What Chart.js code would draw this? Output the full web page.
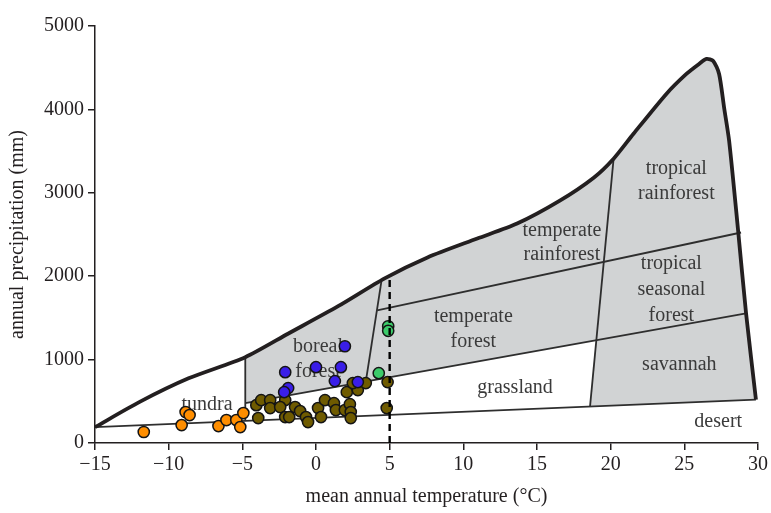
<!DOCTYPE html>
<html>
<head>
<meta charset="utf-8">
<script src="https://cdn.jsdelivr.net/npm/chart.js@4"></script>
<style>
  html, body { margin: 0; padding: 0; background: #fff; }
  #wrap { width: 771px; height: 513px; }
</style>
</head>
<body>
<div id="wrap"><canvas id="myChart"></canvas></div>
<script>
// axis ticks
const xTickValues = [-15, -10, -5, 0, 5, 10, 15, 20, 25, 30];
const xTickLabels = ['\u221215', '\u221210', '\u22125', '0', '5', '10', '15', '20', '25', '30'];
const yTickValues = [0, 1000, 2000, 3000, 4000, 5000];
const yTickLabels = ['0', '1000', '2000', '3000', '4000', '5000'];

// outer climate envelope (temperature, precipitation)
const boundaryT = [-15, -12.0, -8.65, -4.8, -1.9, 1.5, 4.66, 7.57, 10.95, 13.65, 16.55, 18.85, 20.2, 21.55, 23.78, 25.14, 26.0, 26.5, 26.96, 27.36, 27.7, 28.04, 28.65, 29.19, 29.86];
const boundaryP = [190, 490, 775, 1029, 1310, 1640, 1974, 2225, 2452, 2631, 2906, 3181, 3409, 3708, 4186, 4425, 4545, 4605, 4581, 4425, 4020, 3624, 2547, 1555, 520];

// biome dividing lines
const desertT = [-15, 29.86], desertP = [190, 520];
const tundraEdgeT = [-4.8, -4.8], tundraEdgeP = [1029, 266];
const forestEdgeT = [-4.8, 29.19], forestEdgeP = [478, 1555];
const borealEdgeT = [4.45, 3.38], borealEdgeP = [1950, 737];
const temperateEdgeT = [4.15, 28.85], temperateEdgeP = [1591, 2524];
const tropicalEdgeT = [20.2, 18.6], tropicalEdgeP = [3409, 440];
const dashT = [5, 5], dashP = [0, 2000];

// shaded (forest + savannah) region corners below the envelope
const shadeCornerT = [18.6, 19.0, -4.8];
const shadeCornerP = [440, 1232, 478];

// sites
const orangeT = [-11.69, -9.12, -8.85, -8.58, -6.62, -6.08, -5.41, -5.14, -4.93];
const orangeP = [132, 215, 371, 335, 203, 275, 275, 191, 359];
const oliveT = [-4.05, -3.72, -3.11, -2.09, -3.92, -3.11, -2.43, -2.09, -1.82, -1.42, -1.08, -0.68, -0.54, 0.14, 0.34, 0.61, 1.22, 1.35, 1.96, 2.30, 2.36, 2.36, 2.09, 2.84, 2.50, 3.38, 4.86, 4.80];
const oliveP = [454, 514, 514, 514, 299, 419, 431, 311, 311, 431, 383, 311, 251, 419, 311, 514, 478, 395, 395, 466, 371, 299, 610, 634, 718, 718, 730, 419];
const blueT = [1.96, -2.09, 0.0, 1.69, 1.28, 2.84, -1.89, -2.16];
const blueP = [1160, 849, 909, 909, 742, 730, 658, 610];
const greenT = [4.9, 4.9, 4.26];
const greenP = [1400, 1345, 837];

// biome names
const biomeWords = ['tundra', 'boreal', 'forest', 'temperate', 'forest', 'temperate', 'rainforest', 'tropical', 'rainforest', 'tropical', 'seasonal', 'forest', 'grassland', 'savannah', 'desert'];
const wordT = [-7.4, 0.14, 0.14, 10.68, 10.68, 16.69, 16.69, 24.46, 24.46, 24.12, 24.12, 24.12, 13.51, 24.66, 27.3];
const wordP = [454, 1160, 849, 1519, 1220, 2547, 2260, 3289, 2990, 2153, 1842, 1531, 658, 933, 251];

const pts = (t, p) => t.map((v, i) => ({x: v, y: p[i]}));

const shadeT = [-4.8].concat(boundaryT.filter(t => t > -4.8), shadeCornerT);
const shadeP = [1029].concat(boundaryP.filter((p, i) => boundaryT[i] > -4.8), shadeCornerP);

const ink = '#231f20';
const serif = '"Liberation Serif", "Times New Roman", serif';

function thinLine(t, p) {
    return {
        type: 'line', data: pts(t, p), borderColor: '#2e2e2e', borderWidth: 1.8,
        pointRadius: 0, fill: false, tension: 0, order: 9
    };
}

function siteSet(t, p, color, order) {
    return {
        type: 'scatter', data: pts(t, p), backgroundColor: color, borderColor: '#141414',
        borderWidth: 1.5, pointRadius: 5.6, order: order
    };
}

const biomeText = {
    id: 'biomeText',
    afterDatasetDraw(chart, args) {
        if (!chart.data.datasets[args.index].textAfter) return;
        const {ctx, scales: {x, y}} = chart;
        ctx.save();
        ctx.font = '20px ' + serif;
        ctx.fillStyle = '#3a3a3a';
        ctx.textAlign = 'center';
        ctx.textBaseline = 'middle';
        biomeWords.forEach((w, i) => {
            ctx.fillText(w, x.getPixelForValue(wordT[i]), y.getPixelForValue(wordP[i]));
        });
        ctx.restore();
    }
};

const grafico = document.getElementById('myChart');

const myChart = new Chart(grafico, {
    type: 'scatter',
    data: {
        datasets: [
            {
                type: 'line', data: pts(shadeT, shadeP), backgroundColor: '#d1d3d4',
                borderWidth: 0, pointRadius: 0, fill: 'shape', tension: 0, order: 10
            },
            thinLine(desertT, desertP),
            thinLine(tundraEdgeT, tundraEdgeP),
            thinLine(forestEdgeT, forestEdgeP),
            thinLine(borealEdgeT, borealEdgeP),
            thinLine(temperateEdgeT, temperateEdgeP),
            thinLine(tropicalEdgeT, tropicalEdgeP),
            {
                type: 'line', data: pts(boundaryT, boundaryP), borderColor: ink, borderWidth: 3.8,
                borderJoinStyle: 'round', pointRadius: 0, fill: false, tension: 0.25, order: 8, textAfter: true
            },
            siteSet(oliveT, oliveP, '#6f5b00', 5),
            siteSet(orangeT, orangeP, '#ff8e00', 4),
            siteSet(blueT, blueP, '#3a1ee8', 3),
            siteSet(greenT, greenP, '#3ccb6a', 2),
            {
                type: 'line', data: pts(dashT, dashP), borderColor: '#000', borderWidth: 2.4,
                borderDash: [7, 5], pointRadius: 0, fill: false, order: 1
            }
        ]
    },
    options: {
        responsive: true,
        maintainAspectRatio: false,
        animation: false,
        layout: { padding: { top: 26, right: 11, left: 0, bottom: 0 } },
        plugins: {
            legend: { display: false },
            tooltip: { enabled: false }
        },
        scales: {
            x: {
                type: 'linear', min: -15, max: 30,
                afterFit(scale) { scale.height = 70; },
                afterBuildTicks(scale) { scale.ticks = xTickValues.map(v => ({value: v})); },
                ticks: {
                    callback: (v, i) => xTickLabels[i],
                    color: ink, padding: 3, maxRotation: 0,
                    font: { family: serif, size: 20 }
                },
                grid: { drawOnChartArea: false, drawTicks: true, tickLength: 7, color: ink, lineWidth: 1.5 },
                border: { display: true, color: ink, width: 1.5 },
                title: {
                    display: true, text: 'mean annual temperature (\u00b0C)', color: ink,
                    padding: { top: 0, bottom: 4 }, font: { family: serif, size: 20 }
                }
            },
            y: {
                type: 'linear', min: 0, max: 5000,
                afterFit(scale) { scale.width = 95; },
                afterBuildTicks(scale) { scale.ticks = yTickValues.map(v => ({value: v})); },
                ticks: {
                    callback: (v, i) => yTickLabels[i],
                    color: ink, padding: 4,
                    font: { family: serif, size: 20 }
                },
                grid: { drawOnChartArea: false, drawTicks: true, tickLength: 7, color: ink, lineWidth: 1.5 },
                border: { display: true, color: ink, width: 1.5 },
                title: {
                    display: true, text: 'annual precipitation (mm)', color: ink,
                    padding: { top: 6, bottom: 0 }, font: { family: serif, size: 20 }
                }
            }
        }
    },
    plugins: [biomeText]
});
</script>
</body>
</html>
